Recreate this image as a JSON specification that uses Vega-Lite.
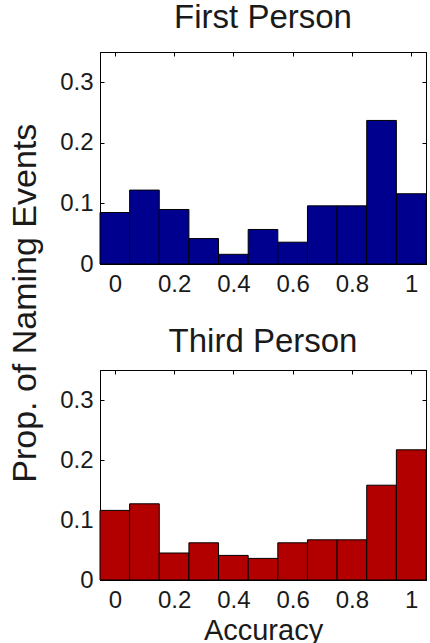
{
  "$schema": "https://vega.github.io/schema/vega-lite/v6.json",
  "padding": {"left": 9, "top": 1, "right": 0, "bottom": 0},
  "background": "white",
  "datasets": {
    "first": [
      {"lo": -0.05, "hi": 0.05, "prop": 0.085},
      {"lo": 0.05, "hi": 0.15, "prop": 0.122},
      {"lo": 0.15, "hi": 0.25, "prop": 0.090},
      {"lo": 0.25, "hi": 0.35, "prop": 0.042},
      {"lo": 0.35, "hi": 0.45, "prop": 0.016},
      {"lo": 0.45, "hi": 0.55, "prop": 0.057},
      {"lo": 0.55, "hi": 0.65, "prop": 0.036},
      {"lo": 0.65, "hi": 0.75, "prop": 0.096},
      {"lo": 0.75, "hi": 0.85, "prop": 0.096},
      {"lo": 0.85, "hi": 0.95, "prop": 0.237},
      {"lo": 0.95, "hi": 1.05, "prop": 0.116}
    ],
    "third": [
      {"lo": -0.05, "hi": 0.05, "prop": 0.116},
      {"lo": 0.05, "hi": 0.15, "prop": 0.127},
      {"lo": 0.15, "hi": 0.25, "prop": 0.045},
      {"lo": 0.25, "hi": 0.35, "prop": 0.062},
      {"lo": 0.35, "hi": 0.45, "prop": 0.041},
      {"lo": 0.45, "hi": 0.55, "prop": 0.036},
      {"lo": 0.55, "hi": 0.65, "prop": 0.062},
      {"lo": 0.65, "hi": 0.75, "prop": 0.067},
      {"lo": 0.75, "hi": 0.85, "prop": 0.067},
      {"lo": 0.85, "hi": 0.95, "prop": 0.158},
      {"lo": 0.95, "hi": 1.05, "prop": 0.217}
    ]
  },
  "title": {
    "text": "Prop. of Naming Events",
    "orient": "left",
    "anchor": "middle",
    "fontSize": 34,
    "font": "Liberation Sans",
    "fontWeight": "normal",
    "color": "#1a1a1a",
    "offset": 16,
    "dx": 20
  },
  "spacing": 28,
  "vconcat": [
    {
      "width": 326,
      "height": 212,
      "data": {"name": "first"},
      "title": {"text": "First Person", "offset": 17},
      "layer": [
        {
          "mark": {"type": "rect", "color": "#00008F", "stroke": "black", "strokeWidth": 1},
          "encoding": {
            "x": {"field": "lo", "type": "quantitative", "scale": {"domain": [-0.05, 1.05], "nice": false, "zero": false},
                  "axis": {"orient": "bottom", "values": [0, 0.2, 0.4, 0.6, 0.8, 1], "format": "~g", "title": null}},
            "x2": {"field": "hi"},
            "y": {"field": "prop", "type": "quantitative", "scale": {"domain": [0, 0.35], "nice": false},
                  "axis": {"orient": "left", "values": [0, 0.1, 0.2, 0.3], "format": "~g", "title": null}},
            "y2": {"datum": 0}
          }
        },
        {
          "mark": {"type": "rect", "opacity": 0},
          "encoding": {
            "x": {"field": "lo", "type": "quantitative",
                  "axis": {"orient": "top", "values": [0, 0.2, 0.4, 0.6, 0.8, 1], "labels": false, "title": null}},
            "x2": {"field": "hi"},
            "y": {"field": "prop", "type": "quantitative",
                  "axis": {"orient": "right", "values": [0, 0.1, 0.2, 0.3], "labels": false, "title": null}},
            "y2": {"datum": 0}
          }
        }
      ],
      "resolve": {"axis": {"x": "independent", "y": "independent"}}
    },
    {
      "width": 326,
      "height": 210,
      "data": {"name": "third"},
      "title": {"text": "Third Person", "offset": 11},
      "layer": [
        {
          "mark": {"type": "rect", "color": "#B20000", "stroke": "black", "strokeWidth": 1},
          "encoding": {
            "x": {"field": "lo", "type": "quantitative", "scale": {"domain": [-0.05, 1.05], "nice": false, "zero": false},
                  "axis": {"orient": "bottom", "values": [0, 0.2, 0.4, 0.6, 0.8, 1], "format": "~g", "title": "Accuracy"}},
            "x2": {"field": "hi"},
            "y": {"field": "prop", "type": "quantitative", "scale": {"domain": [0, 0.35], "nice": false},
                  "axis": {"orient": "left", "values": [0, 0.1, 0.2, 0.3], "format": "~g", "title": null}},
            "y2": {"datum": 0}
          }
        },
        {
          "mark": {"type": "rect", "opacity": 0},
          "encoding": {
            "x": {"field": "lo", "type": "quantitative",
                  "axis": {"orient": "top", "values": [0, 0.2, 0.4, 0.6, 0.8, 1], "labels": false, "title": null}},
            "x2": {"field": "hi"},
            "y": {"field": "prop", "type": "quantitative",
                  "axis": {"orient": "right", "values": [0, 0.1, 0.2, 0.3], "labels": false, "title": null}},
            "y2": {"datum": 0}
          }
        }
      ],
      "resolve": {"axis": {"x": "independent", "y": "independent"}}
    }
  ],
  "config": {
    "font": "Liberation Sans",
    "view": {"stroke": "black", "strokeWidth": 1},
    "axis": {
      "domainColor": "black",
      "domainWidth": 1,
      "tickColor": "black",
      "tickSize": -4,
      "grid": false,
      "labelFont": "Liberation Sans",
      "labelFontSize": 24,
      "labelColor": "#1a1a1a",
      "labelPadding": 12,
      "titleFont": "Liberation Sans",
      "titleFontSize": 29,
      "titleFontWeight": "normal",
      "titleColor": "#1a1a1a",
      "titlePadding": 4,
      "labelFlush": false,
      "labelOverlap": false
    },
    "axisY": {"labelPadding": 11},
    "title": {
      "font": "Liberation Sans",
      "fontSize": 33,
      "fontWeight": "normal",
      "color": "#1a1a1a",
      "anchor": "middle"
    }
  }
}
